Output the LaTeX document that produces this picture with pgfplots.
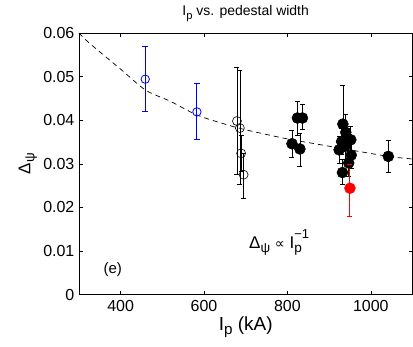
\documentclass[border=0pt]{standalone}
\usepackage{fontspec}
\setmainfont{Liberation Sans}
\newfontfamily\djv{DejaVu Sans}
\usepackage{pgfplots}
\pgfplotsset{compat=1.18}
\newcommand\sub[1]{\raisebox{-0.45ex}{\scalebox{0.8}{#1}}}
\begin{document}
\begin{tikzpicture}
\begin{axis}[name=ax,
  scale only axis, width=334pt, height=262pt,
  xmin=300, xmax=1100, ymin=0, ymax=0.06,
  xtick={400,600,800,1000},
  ytick={0,0.01,0.02,0.03,0.04,0.05,0.06},
  yticklabels={0,0.01,0.02,0.03,0.04,0.05,0.06},
  scaled y ticks=false,
  /pgf/number format/1000 sep={},
  tick align=inside, major tick length=4pt,
  tick style={black, line width=0.6pt},
  axis line style={line width=0.8pt},
  /pgf/number format/assume math mode=true,
  tick label style={font=\fontsize{16}{18}\selectfont},
  xticklabel style={yshift=-2pt},
  yticklabel style={xshift=-1pt},
  xlabel={I\sub{p} (kA)},
  xlabel style={font=\fontsize{19}{21}\selectfont, at={(axis description cs:0.5,-0.125)}, anchor=center},
  ylabel={Δ\sub{ψ}},
  every axis y label/.style={font=\fontsize{17}{19}\selectfont, at={(axis description cs:-0.153,0.5)}, anchor=center, rotate=90},
  title={I\sub{p} vs. pedestal width},
  title style={font=\fontsize{14}{16}\selectfont, at={(axis description cs:0.5,1)}, anchor=base, yshift=11pt},
  clip=false,
]
% fit line
\addplot[black, line width=0.7pt, dash pattern=on 5pt off 4pt, smooth] coordinates {
(300,0.0600) (326,0.0576) (400,0.0517) (460,0.0469) (520,0.0443) (583,0.0412)
(650,0.0391) (700,0.0378) (800,0.0357) (860,0.0347) (950,0.0332) (1042,0.0317) (1100,0.0311)};
% blue error bars (low, high)
\addplot[blue, line width=1pt, mark=-, mark size=3pt, mark options={solid, blue, line width=1pt}] coordinates {(459,0.0421) (459,0.0568)};
\addplot[blue, line width=1pt, mark=-, mark size=3pt, mark options={solid, blue, line width=1pt}] coordinates {(583,0.0355) (583,0.0484)};
% blue open
\addplot[blue, only marks, mark=o, mark size=4.2pt, line width=0.8pt] coordinates {(459,0.0494) (583,0.0419)};
% black open
\addplot[black, only marks, mark=o, mark size=4.5pt, line width=0.6pt,
  error bars/.cd, y dir=both, y explicit,
  error bar style={solid, draw=black, line width=0.6pt},
  error mark options={draw=black, mark size=2.5pt, rotate=90, line width=0.6pt}]
  table[y error plus=ep, y error minus=em] {
x y ep em
679 0.0398 0.0123 0.0123
686 0.0382 0.0132 0.0130
689 0.0324 0.0042 0.0042
695 0.0275 0.0050 0.0053
};
% black filled
\addplot[black, only marks, mark=*, mark size=5.5pt, line width=0.5pt,
  error bars/.cd, y dir=both, y explicit,
  error bar style={solid, draw=black, line width=0.6pt},
  error mark options={draw=black, mark size=2.5pt, rotate=90, line width=0.6pt}]
  table[y error plus=ep, y error minus=em] {
x y ep em
811 0.0346 0.0030 0.0031
824 0.0405 0.0038 0.0039
836 0.0405 0.0032 0.0027
830 0.0334 0.0036 0.0040
933 0.0391 0.0090 0.0040
940 0.0372 0.0042 0.0040
952 0.0355 0.0030 0.0030
930 0.0351 0.0030 0.0030
938 0.0340 0.0030 0.0030
924 0.0332 0.0030 0.0030
953 0.0320 0.0030 0.0030
947 0.0302 0.0030 0.0030
932 0.0280 0.0030 0.0028
1042 0.0317 0.0037 0.0037
};
% red error bar and point
\addplot[red, line width=1pt, mark=-, mark size=2.5pt, mark options={solid, red, line width=1pt}] coordinates {(950,0.0179) (950,0.0299)};
\addplot[red, only marks, mark=*, mark size=5.5pt] coordinates {(950,0.0244)};
\node[font=\fontsize{15}{17}\selectfont] at (axis cs:381,0.0058) {(e)};
\node[font=\fontsize{17}{19}\selectfont, anchor=west] at (axis cs:700,0.0120) {Δ\sub{ψ} {\djv\fontsize{14}{16}\selectfont ∝} I\rlap{\raisebox{1.15ex}{\fontsize{13}{15}\selectfont −1}}\sub{p}};
\end{axis}
\pgfresetboundingbox
\path ([xshift=-79pt,yshift=-52pt]ax.south west) rectangle ([xshift=0.5pt,yshift=33pt]ax.north east);
\end{tikzpicture}
\end{document}
